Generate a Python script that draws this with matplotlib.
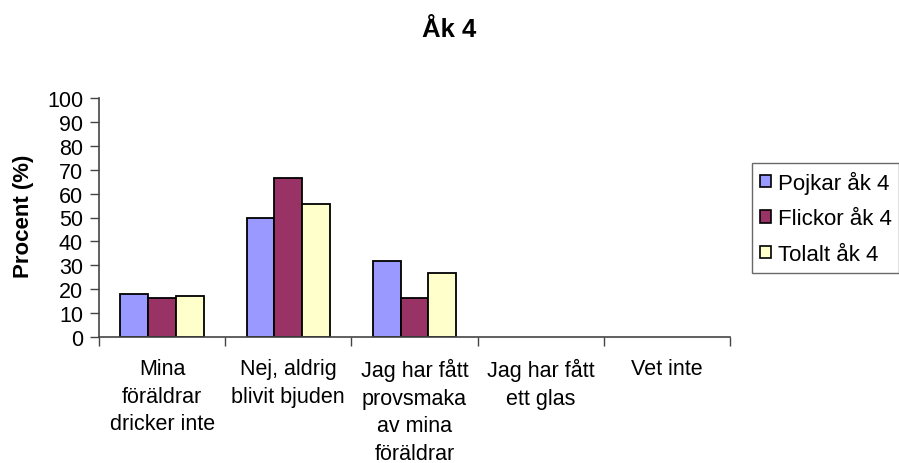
import numpy as np
import matplotlib.pyplot as plt
from matplotlib.patches import Patch

plt.rcParams['font.family'] = ['Liberation Sans', 'DejaVu Sans']

categories = ["Mina\nföräldrar\ndricker inte", "Nej, aldrig\nblivit bjuden",
              "Jag har fått\nprovsmaka\nav mina\nföräldrar", "Jag har fått\nett glas", "Vet inte"]
series = ["Pojkar åk 4", "Flickor åk 4", "Tolalt åk 4"]
pojkar = [18.2, 50.0, 31.9, 0, 0]
flickor = [16.5, 66.6, 16.5, 0, 0]
tolalt = [17.3, 55.7, 26.8, 0, 0]
colors = ['#9999FF', '#993366', '#FFFFCC']

fig = plt.figure(figsize=(8.99, 4.64), dpi=100)
ax = fig.add_axes([99 / 899, 1 - 338 / 464, 631 / 899, 239 / 464])

x = np.arange(len(categories))
w = 0.22
for i, (vals, c) in enumerate(zip([pojkar, flickor, tolalt], colors)):
    xs = x + (i - 1) * w
    for xi, v in zip(xs, vals):
        if v > 0:
            ax.bar(xi, v, width=w, color=c, edgecolor='black', linewidth=1.3)

ax.set_xlim(-0.5, len(categories) - 0.5)
ax.set_ylim(0, 100)
ax.set_yticks(np.arange(0, 101, 10))
ax.set_xticks(np.arange(-0.5, len(categories), 1))
ax.set_xticklabels([])
ax.tick_params(axis='y', direction='out', length=6.5, labelsize=15.5, width=1, color='#444444', pad=5)
ax.tick_params(axis='x', direction='out', length=6.5, width=1, color='#444444')
for xi, lab in zip(x, categories):
    ax.annotate(lab, xy=(xi, 0), xycoords='data', xytext=(0, -15), textcoords='offset points',
                ha='center', va='top', fontsize=15.5, linespacing=1.42)

for s in ['top', 'right']:
    ax.spines[s].set_visible(False)
for s in ['left', 'bottom']:
    ax.spines[s].set_color('#444444')
    ax.spines[s].set_linewidth(1.2)

fig.text(23 / 899, 1 - 216 / 464, 'Procent (%)', rotation=90, ha='center', va='center',
         fontsize=16, fontweight='bold')
fig.text(449 / 899, 1 - 37 / 464, 'Åk 4', ha='center', va='baseline', fontsize=18.5, fontweight='bold')

handles = [Patch(facecolor=c, edgecolor='black', linewidth=1.2) for c in colors]
leg = fig.legend(handles, series, loc='upper left', bbox_to_anchor=(752 / 899, 1 - 164 / 464),
                 fontsize=16, frameon=True, fancybox=False, edgecolor='#444444',
                 handlelength=0.5, handleheight=0.5, handletextpad=0.3, labelspacing=0.65,
                 borderpad=0.35, borderaxespad=0)
leg.get_frame().set_linewidth(1)

fig.savefig('out.png', dpi=100)
